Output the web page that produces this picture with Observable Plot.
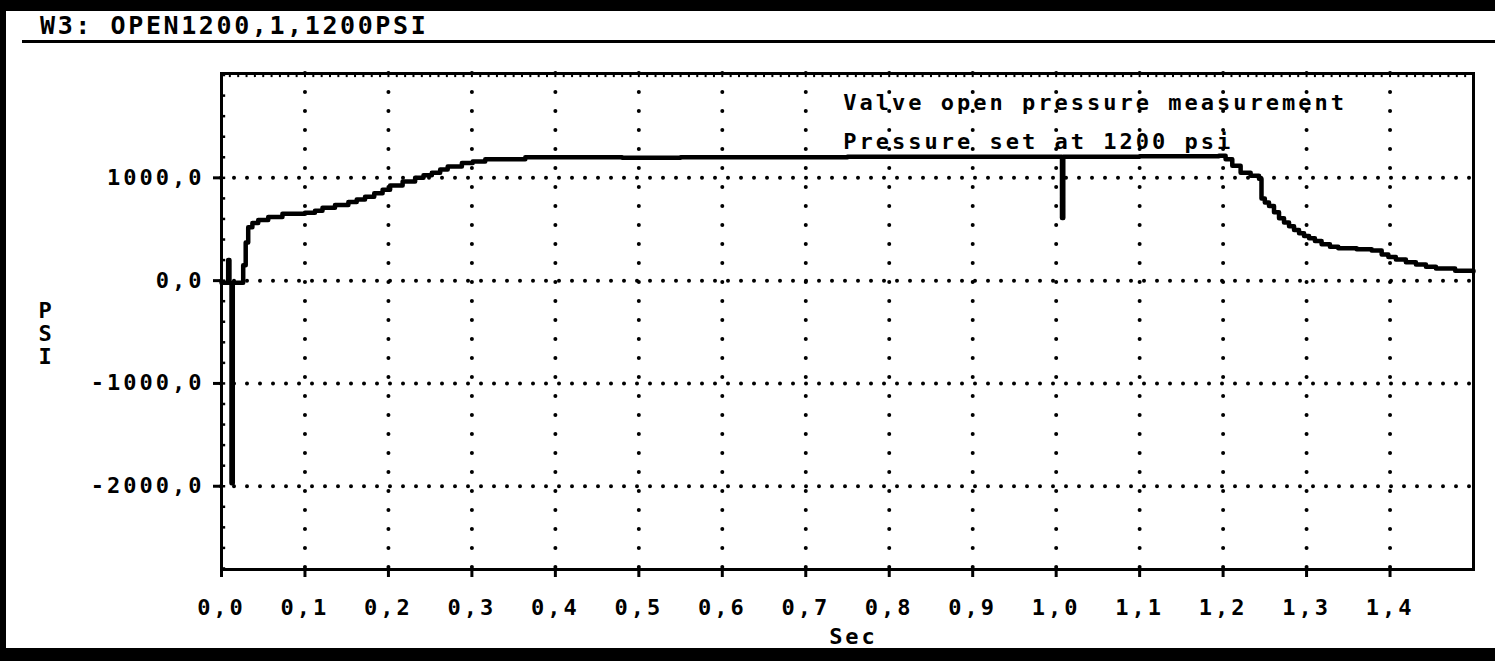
<!DOCTYPE html>
<html>
<head>
<meta charset="utf-8">
<script src="https://cdn.jsdelivr.net/npm/d3@7"></script>
<script src="https://cdn.jsdelivr.net/npm/@observablehq/plot@0.6"></script>
<style>
  html, body { margin: 0; padding: 0; background: white; }
  #page { position: relative; width: 1495px; height: 661px; overflow: hidden; background: white; }
  .band { position: absolute; background: black; z-index: 3; }
  #title { position: absolute; left: 40px; top: 11px; font-family: "DejaVu Sans Mono", monospace; font-weight: bold; font-size: 25px; letter-spacing: 2.6px; color: black; white-space: pre; }
  #rule { position: absolute; left: 22px; right: 0; top: 40px; height: 3px; background: black; }
  #chart { position: absolute; left: 0; top: 50px; }
</style>
</head>
<body>
<div id="page">
  <div id="title">W3: OPEN1200,1,1200PSI</div>
  <div id="rule"></div>
  <div id="chart"></div>
  <div class="band" style="left:0;top:0;width:1495px;height:11px"></div>
  <div class="band" style="left:0;top:0;width:6px;height:661px"></div>
  <div class="band" style="left:0;top:648px;width:1495px;height:13px"></div>
</div>
<script>
// ---- data ----
const timeSec = [0, 0.008, 0.0095, 0.012, 0.0135, 0.026, 0.029, 0.032, 0.037, 0.044, 0.056, 0.073, 0.100,
  0.112, 0.121, 0.136, 0.152, 0.162, 0.172, 0.183, 0.193, 0.202, 0.217, 0.232, 0.242, 0.252, 0.262, 0.271,
  0.288, 0.301, 0.316, 0.364, 0.48, 0.55, 0.75, 1.006, 1.007, 1.0085, 1.10, 1.195, 1.203, 1.211, 1.221,
  1.233, 1.243, 1.246, 1.250, 1.255, 1.261, 1.267, 1.273, 1.279, 1.285, 1.291, 1.297, 1.303, 1.310, 1.318,
  1.328, 1.338, 1.360, 1.378, 1.390, 1.398, 1.407, 1.419, 1.431, 1.443, 1.455, 1.478, 1.5];
const pressurePsi = [-20, 200, -20, -1970, -20, 150, 370, 520, 560, 590, 620, 650, 660,
  680, 710, 735, 765, 790, 815, 850, 885, 925, 965, 1000, 1025, 1050, 1080, 1110,
  1145, 1160, 1180, 1200, 1195, 1200, 1205, 1205, 610, 1205, 1210, 1215, 1180, 1118, 1050,
  1020, 990, 800, 760, 725, 665, 608, 565, 530, 492, 460, 435, 412, 385, 353,
  330, 314, 305, 294, 255, 230, 206, 180, 157, 135, 118, 95, 90];

const xTicks = [0, 0.1, 0.2, 0.3, 0.4, 0.5, 0.6, 0.7, 0.8, 0.9, 1.0, 1.1, 1.2, 1.3, 1.4];
const yTicks = [-2000, -1000, 0, 1000];
const xMinor = d3.range(0, 150).map(i => i / 100);
const yMinor = d3.range(-14, 11).map(i => i * 200);
const notes = [
  {t: 0.745, v: 1725, label: "Valve open pressure measurement"},
  {t: 0.745, v: 1345, label: "Pressure set at 1200 psi"}
];
const xLabel = ["Sec"];
const yLabel = ["P\nS\nI"];

const series = timeSec.map((t, i) => ({t, v: pressurePsi[i]}));
const fmt = d => d.toFixed(1).replace(".", ",");
const yDomain = [-2810, 2015];

const chart = Plot.plot({
  width: 1495,
  height: 598,
  marginLeft: 221,
  marginRight: 22,
  marginTop: 23,
  marginBottom: 79,
  x: {domain: [0, 1.5]},
  y: {domain: yDomain},
  style: {
    fontFamily: "DejaVu Sans Mono, monospace",
    fontSize: "22px",
    fontWeight: "bold",
    letterSpacing: "3px",
    background: "transparent",
    color: "black",
    overflow: "visible"
  },
  marks: [
    Plot.ruleY(yTicks, {stroke: "black", strokeWidth: 4, strokeDasharray: "0,13", strokeLinecap: "round"}),
    Plot.ruleX(xTicks.slice(1), {stroke: "black", strokeWidth: 4, strokeDasharray: "0,19", strokeLinecap: "round"}),
    Plot.ruleY(yMinor, {x1: 0, x2: 0.005, stroke: "black", strokeWidth: 2.5}),
    Plot.ruleX(xMinor, {y1: yDomain[1], y2: yDomain[1] - 40, stroke: "black", strokeWidth: 2}),
    Plot.frame({stroke: "black", strokeWidth: 3}),
    Plot.axisY({ticks: yTicks, tickSize: 8, tickPadding: 9, tickFormat: fmt, strokeWidth: 3, label: null}),
    Plot.axisX({ticks: xTicks, tickSize: 8, tickPadding: 22, tickFormat: fmt, strokeWidth: 3, label: null}),
    Plot.line(series, {x: "t", y: "v", curve: "step-after", stroke: "black", strokeWidth: 4.5}),
    Plot.text(notes, {x: "t", y: "v", text: "label", textAnchor: "start", lineAnchor: "middle"}),
    Plot.text(xLabel, {frameAnchor: "bottom", dy: 74, dx: 6}),
    Plot.text(yLabel, {frameAnchor: "left", dx: -183, dy: 12, lineHeight: 1.05})
  ]
});
document.getElementById("chart").appendChild(chart);
</script>
</body>
</html>
